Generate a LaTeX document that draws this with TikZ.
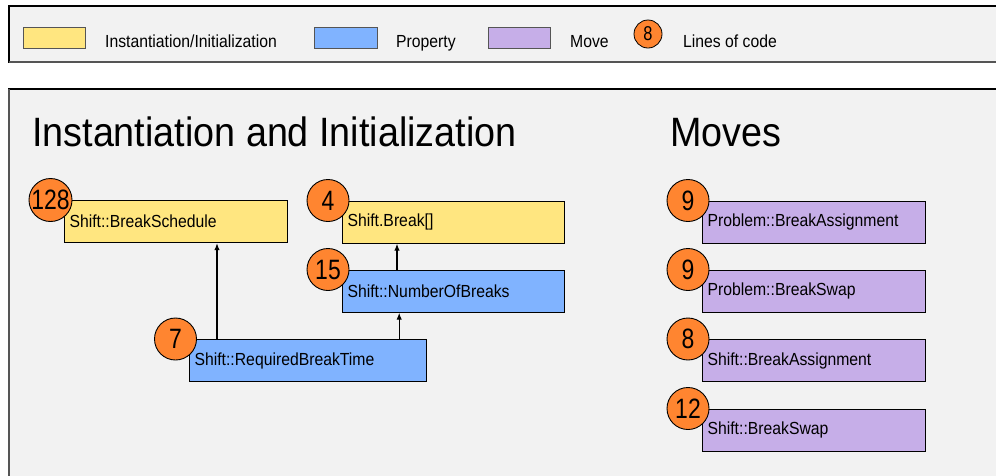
\documentclass[tikz,border=0pt]{standalone}
\usepackage{fontspec}
\setmainfont{Liberation Sans}[FakeStretch=0.9]
\newfontfamily\titlefont{Liberation Sans}[FakeStretch=0.92]
\newfontfamily\numfont{Liberation Sans}[FakeStretch=0.82]
\usetikzlibrary{arrows.meta}
\definecolor{bgc}{HTML}{F2F2F2}
\definecolor{yel}{HTML}{FFE680}
\definecolor{blu}{HTML}{80B3FF}
\definecolor{pur}{HTML}{C6AEE8}
\definecolor{org}{HTML}{FF8530}
\definecolor{shadow}{HTML}{555555}
\tikzset{
  panel/.style={fill=bgc, draw=black, line width=1.2pt},
  codebox/.style={draw=black, line width=1.2pt, anchor=north west, minimum height=42pt,
    inner xsep=5pt, inner ysep=0pt, align=left, font=\fontsize{17.5}{20}\selectfont},
  yelbox/.style={codebox, fill=yel},
  blubox/.style={codebox, fill=blu},
  purbox/.style={codebox, fill=pur},
  locnum/.style={circle, draw=black, line width=0.9pt, fill=org, minimum size=42pt, inner sep=0pt,
    font=\numfont\fontsize{28}{28}\selectfont},
  legrect/.style={draw=shadow, line width=1pt},
  legtext/.style={anchor=base west, inner sep=0pt, font=\fontsize{17.5}{20}\selectfont},
  ttl/.style={anchor=base west, inner sep=0pt, font=\titlefont\fontsize{41}{44}\selectfont},
  arr/.style={draw=black, line width=1.2pt, -{Latex[length=7pt,width=5.5pt]}}
}
\begin{document}
\begin{tikzpicture}[x=1pt,y=-1pt]
\useasboundingbox (0,0) rectangle (996,475);
\fill[white] (0,0) rectangle (996,475);
% legend panel
\draw[panel] (9,6) rectangle (1010,62);
\draw[shadow, line width=2.4pt] (9,62) -- (1010,62);
\draw[legrect, fill=yel] (23,27) rectangle (85,48);
\node[legtext] (lt1) at (105,47) {Instantiation/Initialization};
\draw[legrect, fill=blu] (314,27) rectangle (377,48);
\node[legtext] (lt2) at (396,47) {Property};
\draw[legrect, fill=pur] (488,27) rectangle (550,48);
\node[legtext] (lt3) at (570,47) {Move};
\node[circle, draw=black, line width=0.8pt, fill=org, minimum size=28pt, inner sep=0pt,
  font=\numfont\fontsize{20}{20}\selectfont] (lc) at (648,34) {8};
\node[legtext] (lt4) at (683,47) {Lines of code};
% main panel
\draw[panel] (9,89) rectangle (1010,490);
\draw[shadow, line width=2.2pt] (9,89) -- (9,490);
\node[ttl] (t1) at (32,146) {Instantiation and Initialization};
\node[ttl] (t2) at (670,146) {Moves};
% boxes
\node[yelbox, minimum width=223pt, text width=213pt] (bs) at (64,200) {Shift::BreakSchedule};
\node[yelbox, minimum width=222pt, text width=212pt] (sb) at (342,200.5) {Shift.Break[]};
\node[blubox, minimum width=222pt, text width=212pt] (nb) at (342,269.5) {Shift::NumberOfBreaks};
\node[blubox, minimum width=237pt, text width=227pt] (rbt) at (189,339) {Shift::RequiredBreakTime};
\node[purbox, minimum width=223pt, text width=213pt] (m1) at (702,200.5) {Problem::BreakAssignment};
\node[purbox, minimum width=223pt, text width=213pt] (m2) at (702,269.5) {Problem::BreakSwap};
\node[purbox, minimum width=223pt, text width=213pt] (m3) at (702,339) {Shift::BreakAssignment};
\node[purbox, minimum width=223pt, text width=213pt] (m4) at (702,408.5) {Shift::BreakSwap};
% arrows
\coordinate (a1) at ([xshift=28pt]rbt.north west);
\coordinate (a2) at ([xshift=-28pt]rbt.north east);
\coordinate (a3) at ([xshift=55pt]nb.north west);
\draw[arr] (a1) -- (a1 |- bs.south);
\draw[arr] (a2) -- (a2 |- nb.south);
\draw[arr] (a3) -- (a3 |- sb.south);
% line-of-code circles
\node[locnum] (c1) at ([xshift=-13.5pt]bs.north west) {128};
\node[locnum] (c2) at ([xshift=-14pt]sb.north west) {4};
\node[locnum] (c3) at ([xshift=-14pt]nb.north west) {15};
\node[locnum] (c4) at ([xshift=-13.5pt]rbt.north west) {7};
\node[locnum] (c5) at ([xshift=-14pt]m1.north west) {9};
\node[locnum] (c6) at ([xshift=-14pt]m2.north west) {9};
\node[locnum] (c7) at ([xshift=-14pt]m3.north west) {8};
\node[locnum] (c8) at ([xshift=-14pt]m4.north west) {12};
\end{tikzpicture}
\end{document}
